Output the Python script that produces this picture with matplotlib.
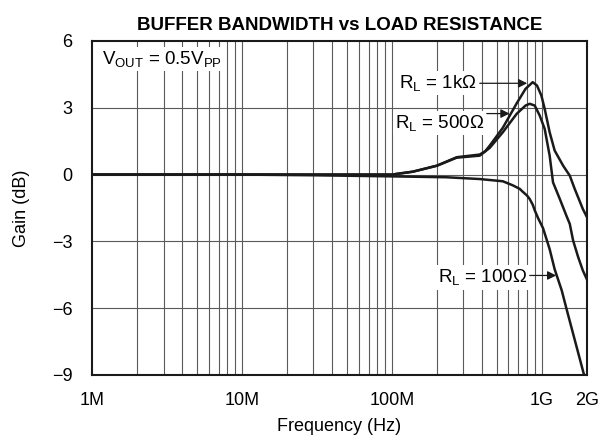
import numpy as np
from matplotlib import pyplot as plt

plt.rcParams['font.family'] = ['Liberation Sans', 'DejaVu Sans']
plt.rcParams['mathtext.default'] = 'regular'

# ================================================
# DATA (frequency in Hz, gain in dB)
# ================================================

freq_1k = [1e6, 1e7, 1e8, 1.38e8, 2.0e8, 2.71e8, 3.86e8, 4.2e8, 4.5e8, 5.5e8, 6.81e8, 7.8e8,
           8.71e8, 9.3e8, 9.95e8, 1.047e9, 1.13e9, 1.22e9, 1.39e9, 1.54e9, 1.66e9, 1.88e9, 2.0e9]
gain_1k = [0, 0, 0, 0.13, 0.4, 0.78, 0.9, 1.05, 1.3, 2.1, 3.2, 3.85,
           4.15, 4.0, 3.55, 2.95, 1.9, 1.08, 0.4, -0.05, -0.64, -1.54, -1.9]

freq_500 = [1e6, 1e7, 1e8, 1.38e8, 2.0e8, 2.71e8, 3.86e8, 4.5e8, 5.5e8, 6.81e8, 7.8e8, 8.32e8,
            8.98e8, 9.7e8, 1.047e9, 1.13e9, 1.19e9, 1.318e9, 1.46e9, 1.54e9, 1.62e9, 1.75e9, 1.88e9, 2.0e9]
gain_500 = [0, 0, 0, 0.13, 0.4, 0.76, 0.85, 1.2, 1.9, 2.73, 3.1, 3.18,
            3.1, 2.65, 2.05, 0.85, -0.35, -1.08, -1.84, -2.22, -2.96, -3.7, -4.3, -4.7]

freq_100 = [1e6, 1e7, 3e7, 1e8, 2.32e8, 3.86e8, 5.5e8, 6.4e8, 7.13e8, 7.5e8, 8.0e8, 8.32e8, 8.71e8,
            8.98e8, 9.45e8, 1.02e9, 1.13e9, 1.22e9, 1.36e9, 1.46e9, 1.9e9, 2.0e9]
gain_100 = [0, 0, -0.03, -0.08, -0.12, -0.2, -0.3, -0.48, -0.64, -0.78, -0.95, -1.1, -1.35,
            -1.6, -1.95, -2.4, -3.35, -4.25, -5.2, -6.0, -8.9, -9.3]

x_ticks = [1e6, 1e7, 1e8, 1e9, 2e9]
x_labels = ['1M', '10M', '100M', '1G', '2G']
y_ticks = [-9, -6, -3, 0, 3, 6]

# ================================================
# PLOT
# ================================================

fig = plt.figure(figsize=(6.1, 4.43), dpi=100)
ax = fig.add_axes([0.151, 0.1535, 0.811, 0.754])

ax.set_xscale('log')
ax.set_xlim(1e6, 2e9)
ax.set_ylim(-9, 6)

# grid: every 1-9 step in each decade
for dec in [1e6, 1e7, 1e8]:
    for m in range(1, 10):
        f = dec * m
        if f <= 1e6:
            continue
        ax.axvline(f, color='#5a5a5a', lw=0.8, zorder=1)
ax.axvline(1e9, color='#5a5a5a', lw=0.8, zorder=1)
for y in y_ticks[1:-1]:
    ax.axhline(y, color='#5a5a5a', lw=0.8, zorder=1)

ax.plot(freq_100, gain_100, color='#1a1a1a', lw=1.8, zorder=3, solid_joinstyle='round')
ax.plot(freq_500, gain_500, color='#1a1a1a', lw=1.8, zorder=3, solid_joinstyle='round')
ax.plot(freq_1k, gain_1k, color='#1a1a1a', lw=1.8, zorder=3, solid_joinstyle='round')

ax.set_xticks(x_ticks)
ax.set_xticklabels(x_labels)
ax.xaxis.set_minor_locator(plt.NullLocator())
ax.set_yticks(y_ticks)
ax.set_yticklabels([str(v).replace('-', '\u2212') for v in y_ticks])
ax.tick_params(length=0, labelsize=13, pad=12)
ax.tick_params(axis='y', pad=14)

for s in ax.spines.values():
    s.set_linewidth(1.5)
    s.set_color('#1a1a1a')
    s.set_zorder(4)

ax.set_xlabel('Frequency (Hz)', fontsize=13, labelpad=7)
ax.set_ylabel('Gain (dB)', fontsize=13, labelpad=16)
ax.set_title('BUFFER BANDWIDTH vs LOAD RESISTANCE', fontsize=13.5, fontweight='bold', pad=8)

box = dict(facecolor='white', edgecolor='none', pad=1.5)
ax.text(1.17e6, 5.2, 'V$_{OUT}$ = 0.5V$_{PP}$', fontsize=13.5, ha='left', va='center',
        bbox=box, zorder=5)

arrow = dict(arrowstyle='-|>', color='#1a1a1a', lw=0.9, mutation_scale=13, shrinkA=0, shrinkB=0)

ax.text(3.69e8, 4.13, 'R$_L$ = 1k\u03a9', fontsize=13.5, ha='right', va='center', bbox=box, zorder=5)
ax.annotate('', xy=(8.0e8, 4.1), xytext=(3.86e8, 4.1), arrowprops=arrow, zorder=5)

ax.text(4.15e8, 2.33, 'R$_L$ = 500\u03a9', fontsize=13.5, ha='right', va='center', bbox=box, zorder=5)
ax.annotate('', xy=(6.1e8, 2.74), xytext=(4.3e8, 2.74), arrowprops=arrow, zorder=5)

ax.text(8.0e8, -4.62, 'R$_L$ = 100\u03a9', fontsize=13.5, ha='right', va='center', bbox=box, zorder=5)
ax.annotate('', xy=(1.25e9, -4.53), xytext=(8.32e8, -4.53), arrowprops=arrow, zorder=5)

fig.savefig('out.png', dpi=100)
